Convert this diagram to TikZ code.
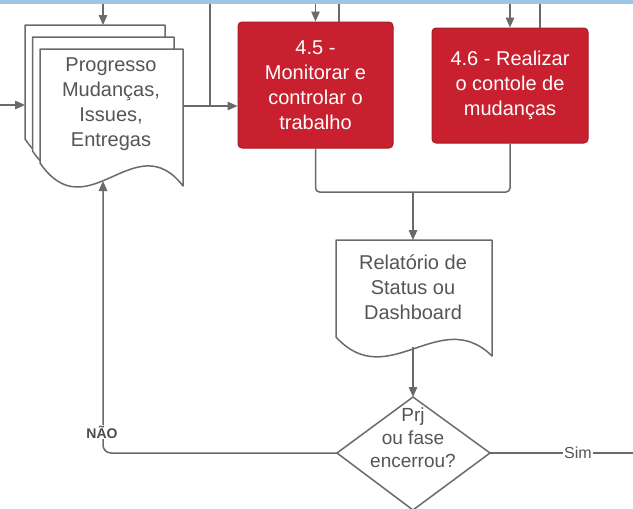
\documentclass[tikz,border=0pt]{standalone}
\usepackage{fontspec}
\setmainfont{Liberation Sans}
\usetikzlibrary{arrows.meta}
\definecolor{linegray}{HTML}{6A6A6A}
\definecolor{txtgray}{HTML}{555555}
\definecolor{procred}{HTML}{C8202E}
\definecolor{procedge}{HTML}{A51C28}
\definecolor{topband}{HTML}{9CC6E6}
\newcommand\mydocshape[5]{%
  \filldraw[docline] (#1,#2) -- (#3,#2) -- (#3,{#4+#5})
    .. controls ({#1+2*(#3-#1)/3},{#4-1.7*#5}) and ({#1+(#3-#1)/3},{#4+3*#5}) .. (#1,#4) -- cycle;}
\tikzset{
  docline/.style={draw=linegray, fill=white, line width=1.5pt, line join=round},
  ln/.style={draw=linegray, line width=1.5pt},
  arr/.style={ln, -{Triangle[length=10pt,width=8.5pt]}},
  proc/.style={draw=procedge, fill=procred, rounded corners=4pt, line width=1pt,
    text=white, align=center, font=\fontsize{20}{25}\selectfont, inner sep=0pt},
  doctext/.style={text=txtgray, align=center, font=\fontsize{20}{25}\selectfont, inner sep=0pt},
  lbl/.style={text=txtgray, fill=white, inner sep=1pt}
}
\begin{document}
\begin{tikzpicture}[x=1pt,y=-1pt]
\useasboundingbox (0,0) rectangle (633,509);
\fill[white] (0,0) rectangle (633,509);
\fill[topband] (0,0) rectangle (633,3.5);

% multi-document
\mydocshape{25}{25}{165}{139}{23}
\mydocshape{32.5}{37}{174}{151}{23}
\mydocshape{40}{49}{183}{163}{23}
\node[doctext] (prog) at (111,104) {Progresso\\Mudanças,\\Issues,\\Entregas};

% Relatorio document
\mydocshape{336}{240}{492}{337}{19}
\node[doctext] (rel) at (413,287) {Relatório de\\Status ou\\Dashboard};

% process boxes
\node[proc, minimum width=155pt, minimum height=126pt] (b45) at (315.5,85) {4.5 -\\Monitorar e\\controlar o\\trabalho};
\node[proc, minimum width=156pt, minimum height=115pt] (b46) at (510,85.5) {4.6 - Realizar\\o contole de\\mudanças};

% decision diamond
\coordinate (dT) at (413,397);
\coordinate (dR) at (490,453);
\coordinate (dB) at (413,510);
\coordinate (dL) at (337,453);
\filldraw[docline] (dT) -- (dR) -- (dB) -- (dL) -- cycle;
\node[doctext, font=\fontsize{19}{23}\selectfont] (dec) at (413,438) {Prj\\ou fase\\encerrou?};

% port coordinates
\coordinate (inL) at (0,105);
\coordinate (progL) at (25,105);
\coordinate (topA) at (103,3.5);
\coordinate (progT) at (103,25);
\coordinate (progR) at (183,106);
\coordinate (j1) at (210,106);
\coordinate (topB) at (210,3.5);
\coordinate (progB) at (103,181);
\coordinate (t45a) at (315.5,3.5);
\coordinate (t45b) at (339,3.5);
\coordinate (t46a) at (510,3.5);
\coordinate (t46b) at (540,3.5);
\coordinate (merge) at (413,192);
\coordinate (relT) at (413,240);
\coordinate (relB) at (413,347);
\coordinate (corner) at (103,453);
\coordinate (outR) at (633,453);

% connectors
\draw[arr] (inL) -- (progL);
\draw[arr] (topA) -- (progT);
\draw[ln] (topB) -- (j1);
\draw[arr] (progR) -- (j1) -- (b45.west |- j1);
\draw[arr] (t45a) -- (b45.north);
\draw[ln] (t45b) -- (b45.north -| t45b);
\draw[arr] (t46a) -- (b46.north);
\draw[ln] (t46b) -- (b46.north -| t46b);
\draw[ln, rounded corners=4pt] (b45.south) -- (b45.south |- merge) -- (merge);
\draw[ln, rounded corners=4pt] (b46.south) -- (b46.south |- merge) -- (merge);
\draw[arr] (merge) -- (relT);
\draw[arr] (relB) -- (dT);
\draw[arr, rounded corners=8pt] (dL) -- (corner) -- (progB);
\draw[ln] (dR) -- (outR);
\node[lbl, font=\bfseries\fontsize{14}{16}\selectfont, text=black!70] (nao) at (102,432) {NÃO};
\node[lbl, font=\fontsize{16}{18}\selectfont] (sim) at (578,453) {Sim};
\end{tikzpicture}
\end{document}
